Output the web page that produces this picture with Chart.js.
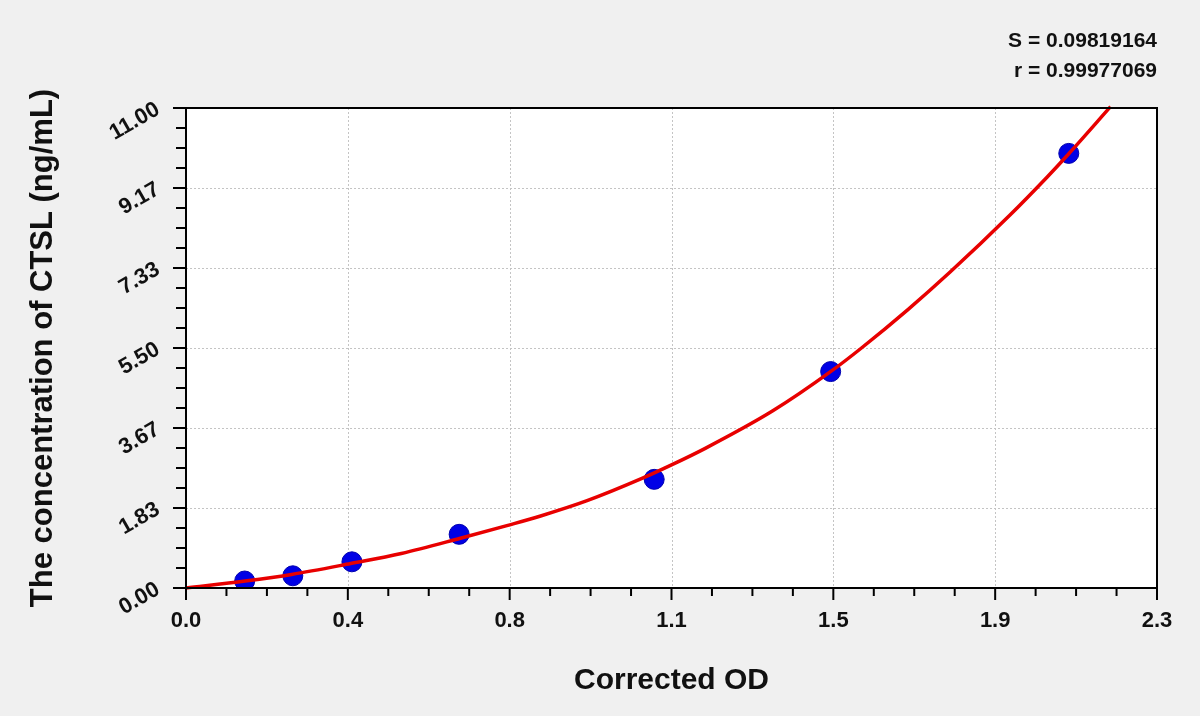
<!DOCTYPE html>
<html>
<head>
<meta charset="utf-8">
<script src="https://cdn.jsdelivr.net/npm/chart.js@4.4.1/dist/chart.umd.min.js"></script>
<style>
  html, body { margin: 0; padding: 0; background: #f0f0f0; }
  #wrap { width: 1200px; height: 716px; position: relative; }
</style>
</head>
<body>
<div id="wrap"><canvas id="c"></canvas></div>
<script>
// ---- data ----
const pointsX = [0.139, 0.253, 0.393, 0.647, 1.109, 1.527, 2.091];
const pointsY = [0.16, 0.28, 0.60, 1.23, 2.49, 4.96, 9.96];

const curveX = [0, 0.14, 0.25, 0.39, 0.51, 0.65, 0.76, 0.84, 0.95, 1.08, 1.15, 1.23, 1.39, 1.53, 1.60, 1.71, 1.81, 1.95, 2.04, 2.09, 2.19];
const curveY = [0, 0.16, 0.31, 0.56, 0.79, 1.14, 1.43, 1.65, 2.00, 2.51, 2.82, 3.20, 4.06, 4.98, 5.50, 6.38, 7.24, 8.53, 9.42, 9.94, 11.03];

const xTickValues = [0, 0.38333, 0.76667, 1.15, 1.53333, 1.91667, 2.3];
const xTickLabels = ['0.0', '0.4', '0.8', '1.1', '1.5', '1.9', '2.3'];
const yTickValues = [0, 1.83333, 3.66667, 5.5, 7.33333, 9.16667, 11];
const yTickLabels = ['0.00', '1.83', '3.67', '5.50', '7.33', '9.17', '11.00'];

const statLines = ['S = 0.09819164', 'r = 0.99977069'];
const xTitle = 'Corrected OD';
const yTitle = 'The concentration of CTSL (ng/mL)';

const FONT = '"Liberation Sans", Arial, sans-serif';

const decor = {
  id: 'decor',
  beforeDatasetsDraw(chart) {
    const {ctx, chartArea: a, scales: {x, y}} = chart;
    ctx.save();
    ctx.fillStyle = '#ffffff';
    ctx.fillRect(a.left, a.top, a.right - a.left, a.bottom - a.top);
    ctx.strokeStyle = '#c4c4c4';
    ctx.lineWidth = 1;
    ctx.setLineDash([2, 2]);
    xTickValues.forEach(v => {
      const px = Math.round(x.getPixelForValue(v)) + 0.5;
      ctx.beginPath(); ctx.moveTo(px, a.top); ctx.lineTo(px, a.bottom); ctx.stroke();
    });
    yTickValues.forEach(v => {
      const py = Math.round(y.getPixelForValue(v)) + 0.5;
      ctx.beginPath(); ctx.moveTo(a.left, py); ctx.lineTo(a.right, py); ctx.stroke();
    });
    ctx.restore();
  },
  afterDatasetsDraw(chart) {
    const {ctx, chartArea: a, scales: {x, y}} = chart;
    ctx.save();
    ctx.setLineDash([]);
    ctx.strokeStyle = '#000';
    ctx.lineWidth = 2;
    ctx.strokeRect(a.left, a.top, a.right - a.left, a.bottom - a.top);
    // ticks (major + 3 minor between)
    for (let i = 0; i < xTickValues.length; i++) {
      const px = x.getPixelForValue(xTickValues[i]);
      ctx.beginPath(); ctx.moveTo(px, a.bottom); ctx.lineTo(px, a.bottom + 12); ctx.stroke();
      if (i < xTickValues.length - 1) {
        const step = (xTickValues[i + 1] - xTickValues[i]) / 4;
        for (let k = 1; k < 4; k++) {
          const mx = x.getPixelForValue(xTickValues[i] + step * k);
          ctx.beginPath(); ctx.moveTo(mx, a.bottom); ctx.lineTo(mx, a.bottom + 8); ctx.stroke();
        }
      }
    }
    for (let i = 0; i < yTickValues.length; i++) {
      const py = y.getPixelForValue(yTickValues[i]);
      ctx.beginPath(); ctx.moveTo(a.left, py); ctx.lineTo(a.left - 13, py); ctx.stroke();
      if (i < yTickValues.length - 1) {
        const step = (yTickValues[i + 1] - yTickValues[i]) / 4;
        for (let k = 1; k < 4; k++) {
          const my = y.getPixelForValue(yTickValues[i] + step * k);
          ctx.beginPath(); ctx.moveTo(a.left, my); ctx.lineTo(a.left - 10, my); ctx.stroke();
        }
      }
    }
    // fit statistics
    ctx.fillStyle = '#111';
    ctx.font = 'bold 21px ' + FONT;
    ctx.textAlign = 'right';
    ctx.textBaseline = 'alphabetic';
    ctx.fillText(statLines[0], a.right, 47);
    ctx.fillText(statLines[1], a.right, 77);
    ctx.restore();
  }
};

new Chart(document.getElementById('c'), {
  type: 'scatter',
  data: {
    datasets: [
      {
        label: 'fit',
        data: curveX.map((v, i) => ({x: v, y: curveY[i]})),
        showLine: true,
        borderColor: '#e80000',
        borderWidth: 3.5,
        pointRadius: 0,
        cubicInterpolationMode: 'monotone',
        clip: false
      },
      {
        label: 'standards',
        data: pointsX.map((v, i) => ({x: v, y: pointsY[i]})),
        pointRadius: 10,
        pointHoverRadius: 10,
        backgroundColor: '#0000e6',
        borderColor: '#0000b0',
        borderWidth: 1
      }
    ]
  },
  options: {
    responsive: true,
    maintainAspectRatio: false,
    animation: false,
    events: [],
    layout: { padding: { left: 0, right: 43, top: 108, bottom: 0 } },
    plugins: { legend: { display: false }, tooltip: { enabled: false } },
    scales: {
      x: {
        type: 'linear',
        min: 0, max: 2.3,
        afterBuildTicks: s => { s.ticks = xTickValues.map(v => ({value: v})); },
        afterFit: s => { s.height = 128; },
        grid: { display: false, drawTicks: true, tickLength: 12 },
        border: { display: false },
        ticks: {
          padding: 8,
          color: '#111',
          maxRotation: 0,
          autoSkip: false,
          font: { family: FONT, size: 22, weight: 'bold' },
          callback: (v, i) => xTickLabels[i]
        },
        title: {
          display: true,
          text: xTitle,
          color: '#111',
          font: { family: FONT, size: 30, weight: 'bold' },
          padding: { top: 0, bottom: 17 }
        }
      },
      y: {
        type: 'linear',
        min: 0, max: 11,
        afterBuildTicks: s => { s.ticks = yTickValues.map(v => ({value: v})); },
        afterFit: s => { s.width = 186; },
        grid: { display: false, drawTicks: true, tickLength: 12 },
        border: { display: false },
        ticks: {
          padding: 16,
          color: '#111',
          minRotation: 30,
          maxRotation: 30,
          autoSkip: false,
          font: { family: FONT, size: 22, weight: 'bold' },
          callback: (v, i) => yTickLabels[i]
        },
        title: {
          display: true,
          text: yTitle,
          color: '#111',
          font: { family: FONT, size: 31, weight: 'bold' },
          padding: { top: 25, bottom: 0 }
        }
      }
    }
  },
  plugins: [decor]
});
</script>
</body>
</html>
